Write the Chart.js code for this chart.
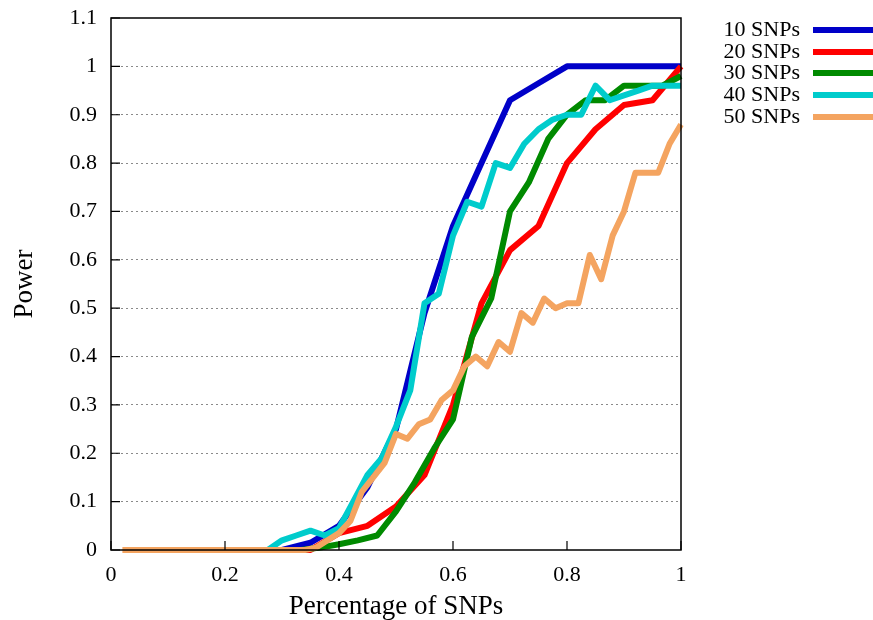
<!DOCTYPE html>
<html>
<head>
    <meta charset="utf-8">
    <style>
        body { margin: 0; background: #fff; }
    </style>
</head>
<body>
    <div>
        <canvas id="chartId" width="873" height="620"></canvas>
    </div>
    <script src="https://cdn.jsdelivr.net/npm/chart.js"></script>
    <script>
        // tick labels
        const xTicks = ['0', '0.2', '0.4', '0.6', '0.8', '1'];
        const yTicks = ['0', '0.1', '0.2', '0.3', '0.4', '0.5', '0.6', '0.7', '0.8', '0.9', '1', '1.1'];

        const seriesNames = ['10 SNPs', '20 SNPs', '30 SNPs', '40 SNPs', '50 SNPs'];

        // 10 SNPs
        const snp10X = [0.05, 0.1, 0.15, 0.2, 0.25, 0.3, 0.35, 0.4, 0.45, 0.5, 0.55, 0.6, 0.65, 0.7, 0.75, 0.8, 0.85, 0.9, 0.95, 1];
        const snp10Y = [0, 0, 0, 0, 0, 0, 0.015, 0.05, 0.13, 0.25, 0.49, 0.67, 0.80, 0.93, 0.965, 1, 1, 1, 1, 1];

        // 20 SNPs
        const snp20X = [0.05, 0.1, 0.15, 0.2, 0.25, 0.3, 0.35, 0.4, 0.45, 0.5, 0.55, 0.6, 0.65, 0.7, 0.75, 0.8, 0.85, 0.9, 0.95, 1];
        const snp20Y = [0, 0, 0, 0, 0, 0, 0, 0.035, 0.05, 0.09, 0.155, 0.30, 0.51, 0.62, 0.67, 0.80, 0.87, 0.92, 0.93, 1.0];

        // 30 SNPs
        const snp30X = [0.033, 0.067, 0.1, 0.133, 0.167, 0.2, 0.233, 0.267, 0.3, 0.333, 0.367, 0.4, 0.433, 0.467, 0.5,
            0.533, 0.567, 0.6, 0.633, 0.667, 0.7, 0.733, 0.767, 0.8, 0.833, 0.867, 0.9, 0.933, 0.967, 1];
        const snp30Y = [0, 0, 0, 0, 0, 0, 0, 0, 0, 0, 0.005, 0.012, 0.02, 0.03, 0.08,
            0.14, 0.21, 0.27, 0.44, 0.52, 0.70, 0.76, 0.85, 0.90, 0.93, 0.93, 0.96, 0.96, 0.96, 0.98];

        // 40 SNPs
        const snp40X = [0.025, 0.05, 0.075, 0.1, 0.125, 0.15, 0.175, 0.2, 0.225, 0.25,
            0.275, 0.3, 0.325, 0.35, 0.375, 0.4, 0.425, 0.45, 0.475, 0.5,
            0.525, 0.55, 0.575, 0.6, 0.625, 0.65, 0.675, 0.7, 0.725, 0.75,
            0.775, 0.8, 0.825, 0.85, 0.875, 0.9, 0.925, 0.95, 0.975, 1];
        const snp40Y = [0, 0, 0, 0, 0, 0, 0, 0, 0, 0,
            0, 0.02, 0.03, 0.04, 0.03, 0.045, 0.10, 0.155, 0.19, 0.255,
            0.33, 0.51, 0.53, 0.65, 0.72, 0.71, 0.80, 0.79, 0.84, 0.87,
            0.89, 0.90, 0.90, 0.96, 0.93, 0.94, 0.95, 0.96, 0.96, 0.96];

        // 50 SNPs
        const snp50X = [0.02, 0.04, 0.06, 0.08, 0.1, 0.12, 0.14, 0.16, 0.18, 0.2,
            0.22, 0.24, 0.26, 0.28, 0.3, 0.32, 0.34, 0.36, 0.38, 0.4,
            0.42, 0.44, 0.46, 0.48, 0.5, 0.52, 0.54, 0.56, 0.58, 0.6,
            0.62, 0.64, 0.66, 0.68, 0.7, 0.72, 0.74, 0.76, 0.78, 0.8,
            0.82, 0.84, 0.86, 0.88, 0.9, 0.92, 0.94, 0.96, 0.98, 1];
        const snp50Y = [0, 0, 0, 0, 0, 0, 0, 0, 0, 0,
            0, 0, 0, 0, 0, 0, 0, 0.005, 0.02, 0.035,
            0.06, 0.12, 0.15, 0.18, 0.24, 0.23, 0.26, 0.27, 0.31, 0.33,
            0.38, 0.40, 0.38, 0.43, 0.41, 0.49, 0.47, 0.52, 0.50, 0.51,
            0.51, 0.61, 0.56, 0.65, 0.70, 0.78, 0.78, 0.78, 0.84, 0.88];

        const colors = ['#0000c8', '#ff0000', '#008a00', '#00cccc', '#f4a460'];

        const serifFont = "'Liberation Serif', 'DejaVu Serif', serif";

        function toPoints(xs, ys) {
            return xs.map((x, i) => ({ x: x, y: ys[i] }));
        }

        const allX = [snp10X, snp20X, snp30X, snp40X, snp50X];
        const allY = [snp10Y, snp20Y, snp30Y, snp40Y, snp50Y];

        const datasets = seriesNames.map((name, i) => ({
            label: name,
            data: toPoints(allX[i], allY[i]),
            borderColor: colors[i],
            backgroundColor: colors[i],
            borderWidth: 6,
            borderJoinStyle: 'round',
            pointRadius: 0,
            fill: false,
            tension: 0,
            order: 5 - i,   // later series drawn on top
            clip: 4
        }));

        // frame, inward ticks and the legend at the right
        const framePlugin = {
            id: 'frame',
            afterDraw(chart) {
                const { ctx, chartArea: a, scales } = chart;
                ctx.save();
                ctx.strokeStyle = '#000';
                ctx.lineWidth = 1.5;
                ctx.strokeRect(a.left, a.top, a.right - a.left, a.bottom - a.top);

                ctx.lineWidth = 1.2;
                ctx.beginPath();
                scales.y.ticks.forEach(t => {
                    const py = scales.y.getPixelForValue(t.value);
                    ctx.moveTo(a.left, py);
                    ctx.lineTo(a.left + 9, py);
                });
                scales.x.ticks.forEach(t => {
                    const px = scales.x.getPixelForValue(t.value);
                    ctx.moveTo(px, a.bottom);
                    ctx.lineTo(px, a.bottom - 9);
                });
                ctx.stroke();

                // legend
                ctx.font = '22px ' + serifFont;
                ctx.textAlign = 'right';
                ctx.textBaseline = 'middle';
                ctx.fillStyle = '#000';
                const rowY = [30, 52, 73, 95, 117];
                seriesNames.forEach((name, i) => {
                    ctx.fillText(name, 800, rowY[i]);
                    ctx.strokeStyle = colors[i];
                    ctx.lineWidth = 6;
                    ctx.beginPath();
                    ctx.moveTo(813, rowY[i]);
                    ctx.lineTo(873, rowY[i]);
                    ctx.stroke();
                });
                ctx.restore();
            }
        };

        const chartCanvas = document.getElementById('chartId');

        new Chart(chartCanvas, {
            type: 'line',
            data: { datasets: datasets },
            options: {
                responsive: false,
                animation: false,
                devicePixelRatio: 1,
                layout: { padding: { left: 0, right: 192, top: 18, bottom: 0 } },
                plugins: {
                    legend: { display: false },
                    tooltip: { enabled: false }
                },
                scales: {
                    x: {
                        type: 'linear',
                        min: 0,
                        max: 1,
                        ticks: {
                            stepSize: 0.2,
                            color: '#000',
                            font: { family: serifFont, size: 22 },
                            padding: 12,
                            maxRotation: 0,
                            callback: (v, i) => xTicks[i]
                        },
                        grid: { display: false, drawTicks: false },
                        border: { display: false },
                        title: {
                            display: true,
                            text: 'Percentage of SNPs',
                            color: '#000',
                            font: { family: serifFont, size: 27, lineHeight: 1 },
                            padding: { top: 0, bottom: 0 }
                        },
                        afterFit: s => {
                            s.height = 70;
                            s.paddingLeft = 0;
                            s.paddingRight = 0;
                        }
                    },
                    y: {
                        min: 0,
                        max: 1.1,
                        ticks: {
                            stepSize: 0.1,
                            color: '#000',
                            font: { family: serifFont, size: 22 },
                            padding: 14,
                            callback: (v, i) => yTicks[i]
                        },
                        grid: {
                            drawTicks: false,
                            lineWidth: 1,
                            color: c => (c.tick && c.tick.value > 0.001 && c.tick.value < 1.09) ? '#8a8a8a' : 'rgba(0,0,0,0)'
                        },
                        border: { display: false, dash: [2, 3] },
                        title: {
                            display: true,
                            text: 'Power',
                            color: '#000',
                            font: { family: serifFont, size: 27, lineHeight: 1 },
                            padding: { top: 11, bottom: 11 }
                        },
                        afterFit: s => {
                            s.width = 111;
                            s.paddingTop = 0;
                            s.paddingBottom = 0;
                        }
                    }
                }
            },
            plugins: [framePlugin]
        });
    </script>
</body>
</html>
